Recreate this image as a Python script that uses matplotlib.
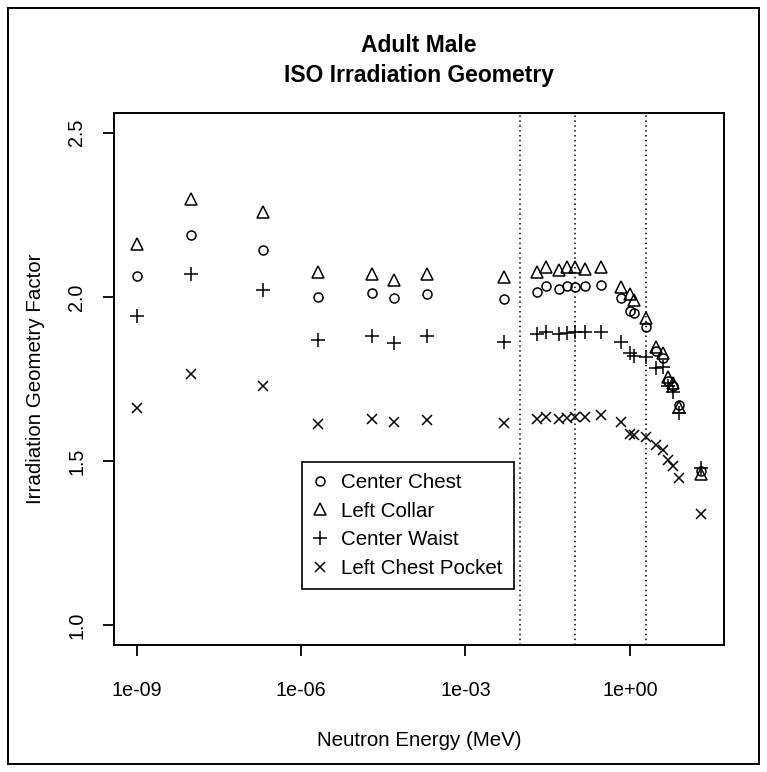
import matplotlib
matplotlib.use("Agg")
import matplotlib.pyplot as plt
from matplotlib.patches import Rectangle

plt.rcParams["font.family"] = ["Liberation Sans", "DejaVu Sans"]

# Neutron energies (MeV) and irradiation geometry factors per dosimeter location
energy = [1e-9, 1e-8, 2e-7, 2e-6, 2e-5, 5e-5, 2e-4, 5e-3,
          0.02, 0.03, 0.05, 0.07, 0.1, 0.15, 0.3,
          0.7, 1.0, 1.2, 2.0, 3.0, 4.0, 5.0, 6.0, 8.0, 20.0]

center_chest = [2.065, 2.188, 2.142, 2.001, 2.012, 1.996, 2.010, 1.993,
                2.015, 2.032, 2.023, 2.033, 2.030, 2.033, 2.037,
                1.996, 1.958, 1.952, 1.908, 1.835, 1.815, 1.745, 1.730, 1.670, 1.470]

left_collar = [2.162, 2.299, 2.258, 2.075, 2.070, 2.052, 2.070, 2.061,
               2.077, 2.092, 2.082, 2.090, 2.092, 2.086, 2.090,
               2.029, 2.010, 1.990, 1.935, 1.847, 1.828, 1.755, 1.737, 1.665, 1.460]

center_waist = [1.942, 2.071, 2.020, 1.869, 1.881, 1.861, 1.880, 1.864,
                1.887, 1.892, 1.887, 1.891, 1.892, 1.892, 1.894,
                1.864, 1.828, 1.820, 1.818, 1.782, 1.786, 1.730, 1.711, 1.645, 1.480]

left_chest_pocket = [1.663, 1.765, 1.728, 1.612, 1.627, 1.619, 1.625, 1.617,
                     1.627, 1.633, 1.627, 1.630, 1.633, 1.633, 1.640,
                     1.619, 1.582, 1.578, 1.573, 1.548, 1.535, 1.504, 1.484, 1.449, 1.339]

# region boundaries marked with dotted lines (MeV)
boundaries = [0.01, 0.1, 2.0]

x_ticks = [1e-9, 1e-6, 1e-3, 1e0]
x_tick_labels = ["1e-09", "1e-06", "1e-03", "1e+00"]
y_ticks = [1.0, 1.5, 2.0, 2.5]
y_tick_labels = ["1.0", "1.5", "2.0", "2.5"]

W, H = 767, 772
fig = plt.figure(figsize=(W / 100, H / 100), dpi=100)
ax = fig.add_axes([114 / W, 1 - 645 / H, (724 - 114) / W, (645 - 113) / H])

lw = 1.1
ax.plot(energy, center_chest, linestyle="none", marker="o", markersize=6.5,
        markerfacecolor="none", markeredgecolor="black", markeredgewidth=lw,
        label="Center Chest")
ax.plot(energy, left_collar, linestyle="none", marker="^", markersize=9,
        markerfacecolor="none", markeredgecolor="black", markeredgewidth=lw,
        label="Left Collar")
ax.plot(energy, center_waist, linestyle="none", marker="+", markersize=10,
        markeredgecolor="black", markeredgewidth=lw, label="Center Waist")
ax.plot(energy, left_chest_pocket, linestyle="none", marker="x", markersize=7,
        markeredgecolor="black", markeredgewidth=lw, label="Left Chest Pocket")

for b in boundaries:
    ax.axvline(b, color="black", linewidth=1.1, linestyle=(0, (1, 2.2)))

ax.set_xscale("log")
ax.set_xlim(10 ** -9.414, 10 ** 1.717)
ax.set_ylim(0.94, 2.56)
ax.minorticks_off()
ax.set_xticks(x_ticks)
ax.set_xticklabels(x_tick_labels)
ax.set_yticks(y_ticks)
ax.set_yticklabels(y_tick_labels, rotation=90, va="center")

for s in ax.spines.values():
    s.set_linewidth(1.4)

ax.tick_params(axis="both", direction="out", length=8, width=1.3,
               labelsize=14.2)
ax.tick_params(axis="x", pad=18)
ax.tick_params(axis="y", pad=12)

ax.set_xlabel("Neutron Energy (MeV)", fontsize=14.8, labelpad=22)
ax.set_ylabel("Irradiation Geometry Factor", fontsize=14.8, labelpad=16)
ax.set_title("Adult Male\nISO Irradiation Geometry", fontsize=16.5, fontweight="bold",
             pad=22, linespacing=1.42)

leg = ax.legend(loc="upper left", bbox_to_anchor=(0.309, 0.3445), fontsize=14.8,
                frameon=True, fancybox=False, edgecolor="black", framealpha=1,
                handlelength=0.6, handletextpad=0.72, labelspacing=0.47,
                borderpad=0.55, borderaxespad=0)
leg.get_frame().set_linewidth(1.2)

# outer frame around the whole device region
fig.patches.append(Rectangle((8 / W, 8 / H), (759 - 8) / W, (764 - 8) / H,
                             transform=fig.transFigure, fill=False,
                             edgecolor="black", linewidth=1.4))

fig.savefig("out.png", dpi=100)
